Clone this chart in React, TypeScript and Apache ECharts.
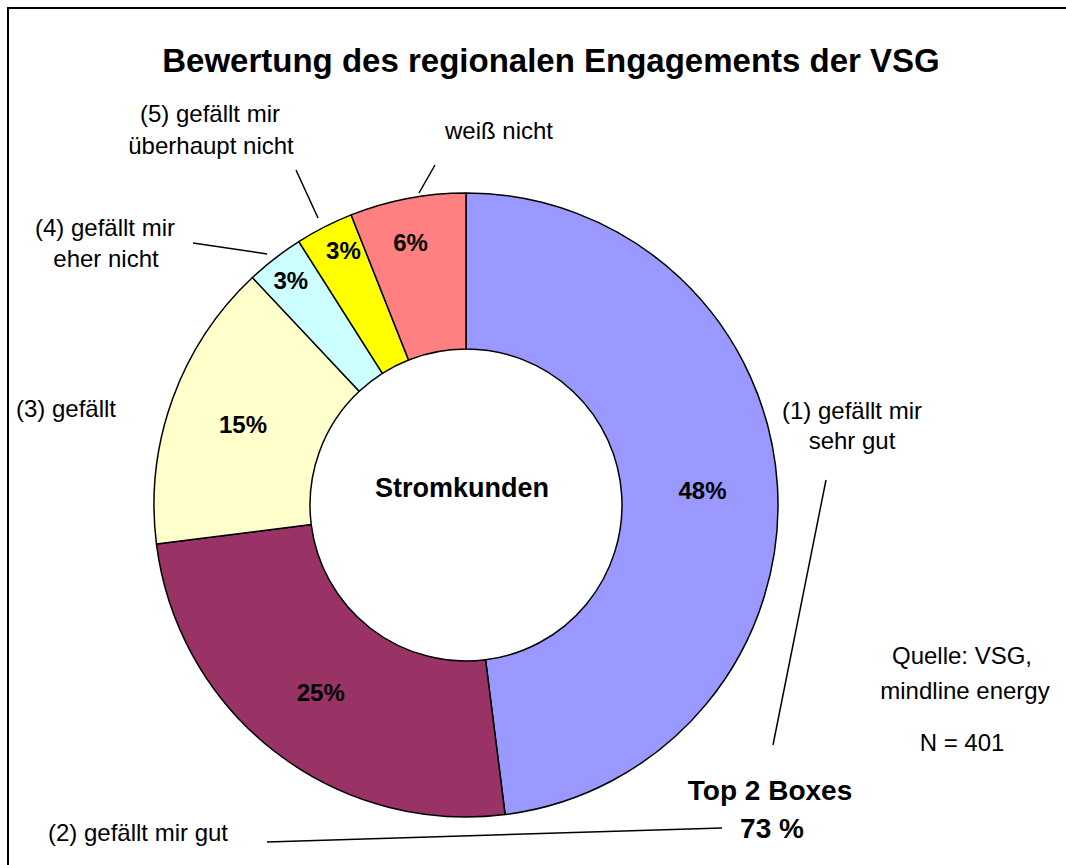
import React, { useEffect, useRef } from "react";
import * as echarts from "echarts";

const categories = [
  "(1) gefällt mir sehr gut",
  "(2) gefällt mir gut",
  "(3) gefällt",
  "(4) gefällt mir eher nicht",
  "(5) gefällt mir überhaupt nicht",
  "weiß nicht",
];
const values = [48, 25, 15, 3, 3, 6];
const colors = ["#9999FF", "#993366", "#FFFFCC", "#CCFFFF", "#FFFF00", "#FF8080"];
const labelShift = [
  [0, 0],
  [0, 0],
  [0, 0],
  [-30, -37],
  [-15, -43],
  [-11, -30],
];

const FONT = "'Liberation Sans', Arial, Helvetica, sans-serif";

function txt(text: string, x: number, y: number, size: number, bold = false) {
  return {
    type: "text",
    x,
    y,
    silent: true,
    style: {
      text,
      fill: "#000",
      font: `${bold ? "bold " : ""}${size}px ${FONT}`,
      textAlign: "center",
      textVerticalAlign: "middle",
      align: "center",
      verticalAlign: "middle",
    },
  };
}

function ln(x1: number, y1: number, x2: number, y2: number) {
  return {
    type: "line",
    silent: true,
    shape: { x1, y1, x2, y2 },
    style: { stroke: "#000", lineWidth: 1.5 },
  };
}

export default function App() {
  const ref = useRef<HTMLDivElement>(null);
  useEffect(() => {
    if (!ref.current) return;
    const chart = echarts.init(ref.current, undefined, { renderer: "svg" });
    chart.setOption({
      animation: false,
      backgroundColor: "#fff",
      series: [
        {
          type: "pie",
          center: [466, 505],
          radius: [156, 312],
          startAngle: 90,
          clockwise: true,
          silent: true,
          avoidLabelOverlap: false,
          data: categories.map((name, i) => ({
            name,
            value: values[i],
            itemStyle: { color: colors[i] },
          })),
          itemStyle: { borderColor: "#000", borderWidth: 1.5 },
          label: {
            show: true,
            position: "inside",
            formatter: "{c}%",
            color: "#000",
            fontFamily: FONT,
            fontWeight: "bold",
            fontSize: 24,
          },
          labelLine: { show: false },
          labelLayout: (p: any) => ({
            dx: labelShift[p.dataIndex][0],
            dy: labelShift[p.dataIndex][1],
          }),
        },
      ],
      graphic: [
        {
          type: "rect",
          silent: true,
          shape: { x: 8, y: 8, width: 1200, height: 1000 },
          style: { fill: "none", stroke: "#000", lineWidth: 2 },
        },
        txt("Bewertung des regionalen Engagements der VSG", 551, 60, 33, true),
        txt("Stromkunden", 462, 488, 27, true),
        txt("(5) gefällt mir", 210, 113, 24),
        txt("überhaupt nicht", 211, 145, 24),
        txt("weiß nicht", 499, 130, 24),
        txt("(4) gefällt mir", 105, 227, 24),
        txt("eher nicht", 106, 258, 24),
        txt("(3) gefällt", 66, 408, 24),
        txt("(1) gefällt mir", 852, 410, 24),
        txt("sehr gut", 852, 440, 24),
        txt("(2) gefällt mir gut", 138, 832, 24),
        txt("Quelle: VSG,", 962, 655, 24),
        txt("mindline energy", 965, 690, 24),
        txt("N = 401", 962, 742, 24),
        txt("Top 2 Boxes", 770, 790, 28, true),
        txt("73 %", 772, 828, 28, true),
        ln(296, 170, 318, 218),
        ln(435, 165, 419, 193),
        ln(193, 243, 267, 254),
        ln(826, 480, 773, 745),
        ln(267, 842, 722, 828),
      ],
    });
    return () => chart.dispose();
  }, []);
  return (
    <div
      ref={ref}
      style={{ position: "fixed", left: 0, top: 0, width: 1066, height: 865 }}
    />
  );
}
